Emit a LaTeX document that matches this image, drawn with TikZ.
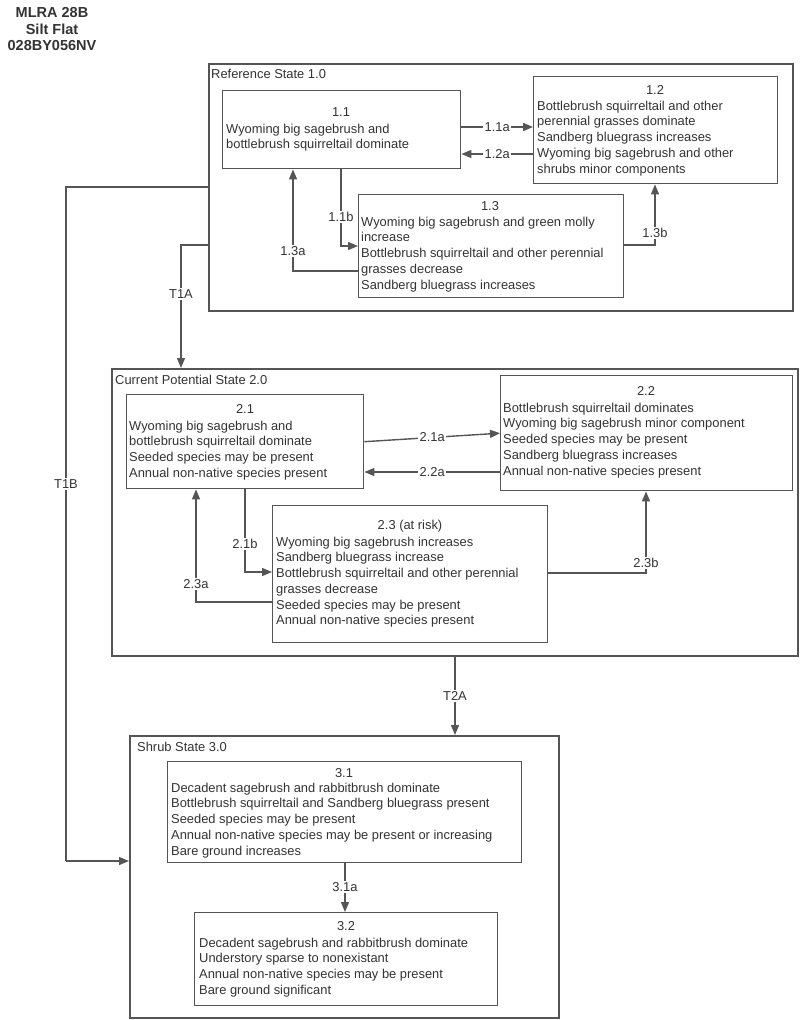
\documentclass[tikz,border=0pt]{standalone}
\usepackage{fontspec}
\setmainfont{Liberation Sans}
\usetikzlibrary{arrows.meta}
\definecolor{ln}{HTML}{555555}
\definecolor{tx}{HTML}{333333}
\tikzset{
  stbox/.style={draw=ln, line width=1.5pt, anchor=north west, inner sep=0pt},
  bx/.style={draw=ln, line width=1.4pt, anchor=north west, inner sep=0pt},
  body/.style={anchor=north west, inner sep=0pt, align=left, text=tx, font=\fontsize{12.9}{15.75}\selectfont},
  num/.style={anchor=base, inner sep=0pt, text=tx, font=\fontsize{12.9}{15.75}\selectfont},
  stlbl/.style={anchor=west, inner sep=0pt, text=tx, font=\fontsize{12.9}{15.75}\selectfont},
  conn/.style={draw=ln, line width=1.4pt, -{Triangle[length=10pt,width=8pt]}},
  lbl/.style={fill=white, inner sep=1.5pt, text=tx, font=\fontsize{12.9}{15.75}\selectfont},
  ttl/.style={inner sep=0pt, text=tx, font=\fontsize{14.5}{16}\selectfont\bfseries}
}
\begin{document}
\begin{tikzpicture}[x=1pt,y=-1pt]
\useasboundingbox[fill=white] (0,0) rectangle (800,1020);
% title
\node[ttl] (t1) at (52,13) {MLRA 28B};
\node[ttl] (t2) at (52,29) {Silt Flat};
\node[ttl] (t3) at (52,46) {028BY056NV};
% state boxes
\node[stbox, minimum width=584pt, minimum height=247pt] (rs) at (208,63) {};
\node[stbox, minimum width=686pt, minimum height=287pt] (cps) at (111,368) {};
\node[stbox, minimum width=429pt, minimum height=282pt] (ss) at (129,735) {};
\node[stlbl] (rsl) at (211,74) {Reference State 1.0};
\node[stlbl] (cpsl) at (115,380) {Current Potential State 2.0};
\node[stlbl] (ssl) at (137,747) {Shrub State 3.0};
% community boxes
\node[bx, minimum width=238pt, minimum height=78pt] (b11) at (222,90) {};
\node[bx, minimum width=244pt, minimum height=107pt] (b12) at (533,76) {};
\node[bx, minimum width=265pt, minimum height=103pt] (b13) at (358,194) {};
\node[bx, minimum width=237pt, minimum height=94pt] (b21) at (126,394) {};
\node[bx, minimum width=292pt, minimum height=115pt] (b22) at (500,375) {};
\node[bx, minimum width=275pt, minimum height=137pt] (b23) at (272,505) {};
\node[bx, minimum width=354pt, minimum height=101pt] (b31) at (167,761) {};
\node[bx, minimum width=303pt, minimum height=93pt] (b32) at (194,912) {};
% numbers
\node[num] (n11) at (341,116.5) {1.1};
\node[num] (n12) at (655,94.5) {1.2};
\node[num] (n13) at (490,210.5) {1.3};
\node[num] (n21) at (245,413.5) {2.1};
\node[num] (n22) at (646,395.5) {2.2};
\node[num] (n23) at (410,529.5) {2.3 (at risk)};
\node[num] (n31) at (344,777.5) {3.1};
\node[num] (n32) at (346,930.5) {3.2};
% bodies
\node[body] (x11) at (226,123.5) {Wyoming big sagebrush and\\bottlebrush squirreltail dominate};
\node[body] (x12) at (537,100.5) {Bottlebrush squirreltail and other\\perennial grasses dominate\\Sandberg bluegrass increases\\Wyoming big sagebrush and other\\shrubs minor components};
\node[body] (x13) at (361,216.5) {Wyoming big sagebrush and green molly\\increase\\Bottlebrush squirreltail and other perennial\\grasses decrease\\Sandberg bluegrass increases};
\node[body] (x21) at (129,420.5) {Wyoming big sagebrush and\\bottlebrush squirreltail dominate\\Seeded species may be present\\Annual non-native species present};
\node[body] (x22) at (503,402.5) {Bottlebrush squirreltail dominates\\Wyoming big sagebrush minor component\\Seeded species may be present\\Sandberg bluegrass increases\\Annual non-native species present};
\node[body] (x23) at (276,536.5) {Wyoming big sagebrush increases\\Sandberg bluegrass increase\\Bottlebrush squirreltail and other perennial\\grasses decrease\\Seeded species may be present\\Annual non-native species present};
\node[body] (x31) at (171,782.5) {Decadent sagebrush and rabbitbrush dominate\\Bottlebrush squirreltail and Sandberg bluegrass present\\Seeded species may be present\\Annual non-native species may be present or increasing\\Bare ground increases};
\node[body] (x32) at (199,937.5) {Decadent sagebrush and rabbitbrush dominate\\Understory sparse to nonexistant\\Annual non-native species may be present\\Bare ground significant};
% connectors state 1
\draw[conn] (b11.east |- 0,127) -- node[lbl] {1.1a} (b12.west |- 0,127);
\draw[conn] (b12.west |- 0,154) -- node[lbl] {1.2a} (b11.east |- 0,154);
\draw[conn] (b11.south -| 341,0) |- node[lbl, pos=0.31] {1.1b} (b13.west |- 0,246);
\draw[conn] (b13.west |- 0,271) -| node[lbl, pos=0.6] {1.3a} (b11.south -| 293,0);
\draw[conn] (b13.east |- 0,245) -| node[lbl, pos=0.6] {1.3b} (b12.south -| 655,0);
% transitions
\coordinate (t1bc) at (66,861);
\draw[conn] (rs.west |- 0,245) -| node[lbl, pos=0.70] {T1A} (cps.north -| 181,0);
\draw[draw=ln, line width=1.4pt] (rs.west |- 0,187) -| node[lbl, pos=0.72] {T1B} (t1bc);
\draw[conn] (t1bc) -- (ss.west |- 0,861);
\draw[conn] (cps.south -| 455,0) -- node[lbl] {T2A} (ss.north -| 455,0);
% connectors state 2
\draw[conn] (b21.east) -- node[lbl] {2.1a} (b22.west);
\draw[conn] (b22.west |- 0,472) -- node[lbl] {2.2a} (b21.east |- 0,472);
\draw[conn] (b21.south -| 245,0) |- node[lbl, pos=0.33] {2.1b} (b23.west |- 0,572);
\draw[conn] (b23.west |- 0,602) -| node[lbl, pos=0.58] {2.3a} (b21.south -| 196,0);
\draw[conn] (b23.east |- 0,573) -| node[lbl, pos=0.56] {2.3b} (b22.south -| 646,0);
% state 3
\draw[conn] (b31.south -| 345,0) -- node[lbl, pos=0.48] {3.1a} (b32.north -| 345,0);
\end{tikzpicture}
\end{document}
